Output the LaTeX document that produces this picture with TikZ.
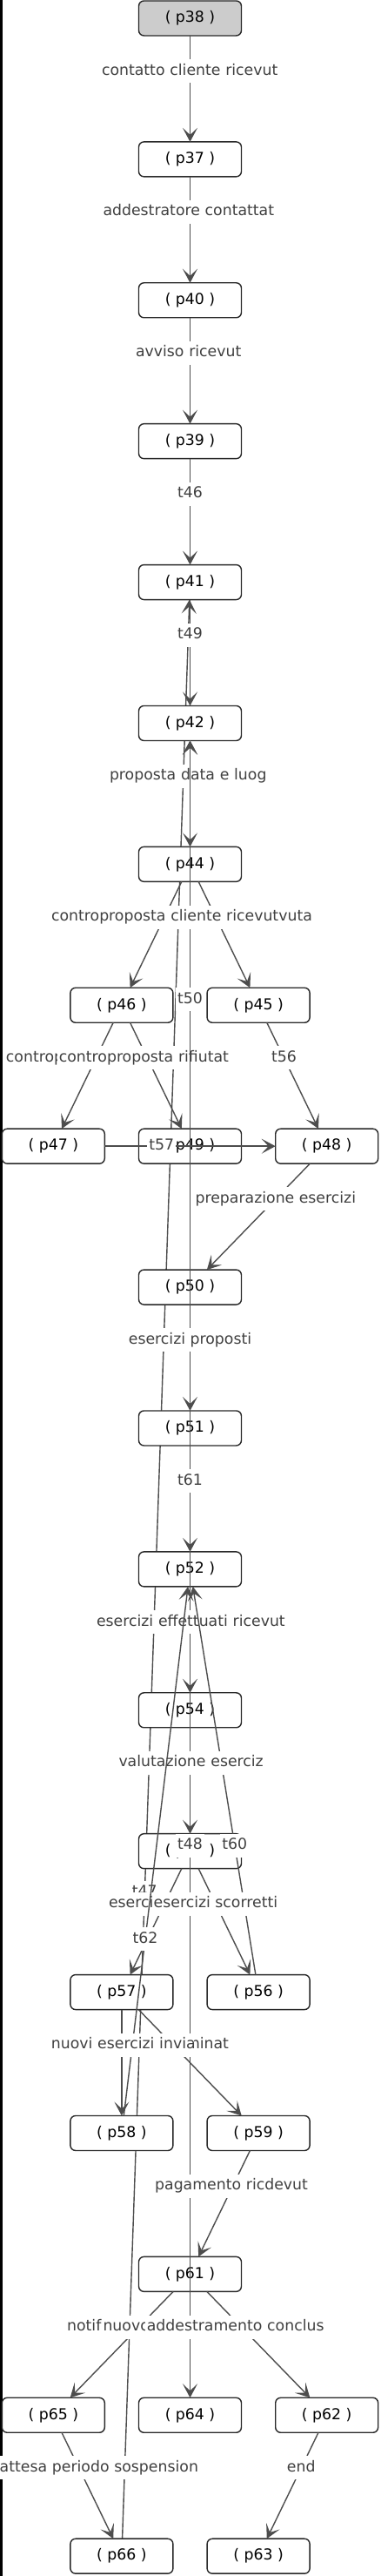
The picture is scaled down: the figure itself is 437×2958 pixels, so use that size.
\documentclass[tikz,border=0pt]{standalone}
\usepackage{fontspec}
\setmainfont{DejaVu Sans}
\usetikzlibrary{arrows.meta,positioning,backgrounds}
\definecolor{edgegray}{RGB}{77,77,77}
\definecolor{labelgray}{RGB}{64,64,64}
\definecolor{startgray}{RGB}{204,204,204}
\definecolor{boxline}{RGB}{40,40,40}

\begin{document}
\begin{tikzpicture}[
 x=1pt,y=1pt,
 node distance=121.9pt,
 every node/.style={font=\fontsize{17.3pt}{20pt}\selectfont},
 place/.style={draw=boxline,line width=1.4pt,rounded corners=6pt,fill=white,minimum width=118pt,minimum height=40pt,inner sep=0pt,outer sep=0pt},
 arr/.style={-{Stealth[length=16pt,width=17pt,inset=8pt]},line width=1.4pt,edgegray},
 lbl/.style={pos=1/3,fill=white,text=labelgray,inner xsep=2pt,inner ysep=5pt,text height=13pt,text depth=4pt},
 cut/.style={text width=#1,align=left,execute at begin node=\hbox\bgroup,execute at end node=\egroup}
]
\useasboundingbox (0,0) rectangle (437,2958);
\fill[black] (0,0) rectangle (2.5,2958);

% places
\node[place,fill=startgray] (p38) at (218.5,2937) {( p38 )};
\node[place,below=of p38] (p37) {( p37 )};
\node[place,below=of p37] (p40) {( p40 )};
\node[place,below=of p40] (p39) {( p39 )};
\node[place,below=of p39] (p41) {( p41 )};
\node[place,below=of p41] (p42) {( p42 )};
\node[place,below=of p42] (p44) {( p44 )};
\node[place,below=of p44,xshift=-78.6pt] (p46) {( p46 )};
\node[place,below=of p44,xshift=78.6pt] (p45) {( p45 )};
\node[place,below=of p46,xshift=-78.6pt] (p47) {( p47 )};
\node[place,below=of p46,xshift=78.6pt] (p49) {( p49 )};
\node[place,below=of p45,xshift=78.6pt] (p48) {( p48 )};
\node[place,below=of p49] (p50) {( p50 )};
\node[place,below=of p50] (p51) {( p51 )};
\node[place,below=of p51] (p52) {( p52 )};
\node[place,below=of p52] (p54) {( p54 )};
\node[place,below=of p54] (p53) {( p53 )};
\node[place,below=of p53,xshift=-78.6pt] (p57) {( p57 )};
\node[place,below=of p53,xshift=78.6pt] (p56) {( p56 )};
\node[place,below=of p57] (p58) {( p58 )};
\node[place,below=of p56] (p59) {( p59 )};
\node[place,below=of p58,xshift=78.6pt] (p61) {( p61 )};
\node[place,below=of p61,xshift=-157.2pt] (p65) {( p65 )};
\node[place,below=of p61] (p64) {( p64 )};
\node[place,below=of p61,xshift=157.2pt] (p62) {( p62 )};
\node[place,below=of p65,xshift=78.6pt] (p66) {( p66 )};
\node[place,below=of p62,xshift=-78.6pt] (p63) {( p63 )};

% transitions
\begin{scope}[on background layer]
\draw[arr] (p66) -- node[lbl] {t47} (p41);
\end{scope}
\draw[arr] (p38) -- node[lbl,cut=203pt] {contatto cliente ricevut} (p37);
\draw[arr] (p37) -- node[lbl,cut=200pt] {addestratore contattat} (p40);
\draw[arr] (p40) -- node[lbl,cut=125pt] {avviso ricevut} (p39);
\draw[arr] (p39) -- node[lbl] {t46} (p41);
\draw[arr] (p41) -- node[lbl] {t49} (p42);
\draw[arr] (p42) -- node[lbl,cut=185pt] {proposta data e luog} (p44);
\draw[arr] (p64) -- node[lbl] {t48} (p42);
\draw[arr] (p46) -- node[lbl,cut=207pt] {controp} (p47);
\draw[arr] (p46) -- node[lbl,cut=203pt] {controproposta rifiutat} (p49);
\draw[arr] (p49) -- node[lbl] {t50} (p42);
\draw[arr] (p44) -- node[lbl,text width=222pt,align=right] {ricevuta} (p45);
\draw[arr] (p44) -- node[lbl,cut=260pt] {controproposta cliente ricevut} (p46);
\draw[arr] (p45) -- node[lbl] {t56} (p48);
\draw[arr] (p47) -- node[lbl] {t57} (p48);
\draw[arr] (p48) -- node[lbl] {preparazione esercizi} (p50);
\draw[arr] (p50) -- node[lbl] {esercizi proposti} (p51);
\draw[arr] (p51) -- node[lbl] {t61} (p52);
\draw[arr] (p52) -- node[lbl,cut=215pt] {esercizi effettuati ricevut} (p54);
\draw[arr] (p56) -- node[lbl] {t60} (p52);
\draw[arr] (p54) -- node[lbl,cut=164pt] {valutazione eserciz} (p53);
\draw[arr] (p53) -- node[lbl,cut=128pt] {eserci} (p57);
\draw[arr] (p53) -- node[lbl] {esercizi scorretti} (p56);
\draw[arr] (p58) -- node[lbl] {t62} (p52);
\draw[arr] (p57) -- node[lbl,cut=162pt] {esercizi terminat} (p59);
\draw[arr] (p57) -- node[lbl,cut=162pt] {nuovi esercizi invia} (p58);
\draw[arr] (p59) -- node[lbl,cut=179pt] {pagamento ricdevut} (p61);
\draw[arr] (p61) -- node[lbl,cut=165pt] {notif} (p65);
\draw[arr] (p61) -- node[lbl,cut=200pt] {nuovo} (p64);
\draw[arr] (p61) -- node[lbl,cut=217pt] {addestramento conclus} (p62);
\draw[arr] (p65) -- node[lbl,cut=290pt] {\hspace*{54pt}attesa periodo sospension} (p66);
\draw[arr] (p62) -- node[lbl] {end} (p63);
\end{tikzpicture}
\end{document}
